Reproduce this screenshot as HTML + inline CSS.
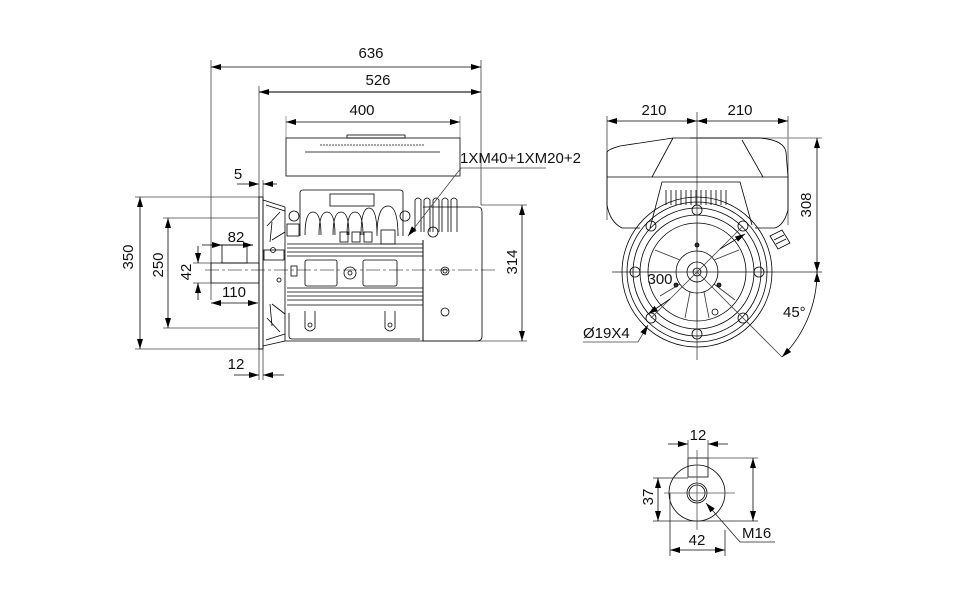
<!DOCTYPE html>
<html><head><meta charset="utf-8"><style>
html,body{margin:0;padding:0;background:#fff}
svg{display:block}
text{font-family:"Liberation Sans",sans-serif;font-size:15px;fill:#111}
</style></head><body>
<svg width="976" height="600" viewBox="0 0 976 600" xmlns="http://www.w3.org/2000/svg">
<defs>
<marker id="a" viewBox="0 0 10 6" refX="10" refY="3" markerWidth="10" markerHeight="6" orient="auto-start-reverse" markerUnits="userSpaceOnUse"><path d="M0,0L10,3L0,6z" fill="#000"/></marker>
</defs>
<g fill="none" stroke="#000" stroke-width="0.8">
<line x1="211" y1="60" x2="211" y2="300" stroke="#444"/>
<line x1="481" y1="60" x2="481" y2="205" stroke="#444"/>
<line x1="259" y1="86" x2="259" y2="380" stroke="#444"/>
<line x1="263" y1="180" x2="263" y2="380" stroke="#444"/>
<line x1="286" y1="116" x2="286" y2="138" stroke="#888"/>
<line x1="460" y1="116" x2="460" y2="138" stroke="#888"/>
<line x1="211" y1="67" x2="481" y2="67" marker-start="url(#a)" marker-end="url(#a)"/>
<line x1="259" y1="92" x2="481" y2="92" stroke="#999" stroke-width="1.5"/>
<line x1="259" y1="92" x2="481" y2="92" marker-start="url(#a)" marker-end="url(#a)"/>
<line x1="286" y1="122" x2="460" y2="122" marker-start="url(#a)" marker-end="url(#a)"/>
<line x1="237" y1="184" x2="259" y2="184" marker-end="url(#a)"/>
<line x1="277" y1="184" x2="263" y2="184" marker-end="url(#a)"/>
<line x1="234" y1="375" x2="259" y2="375" marker-end="url(#a)"/>
<line x1="284" y1="375" x2="263" y2="375" marker-end="url(#a)"/>
<line x1="135" y1="197" x2="262" y2="197" stroke="#444"/>
<line x1="135" y1="349" x2="262" y2="349" stroke="#444"/>
<line x1="140" y1="197" x2="140" y2="349" marker-start="url(#a)" marker-end="url(#a)"/>
<line x1="163" y1="218" x2="258" y2="218" stroke="#444"/>
<line x1="163" y1="328" x2="258" y2="328" stroke="#444"/>
<line x1="168" y1="218" x2="168" y2="328" marker-start="url(#a)" marker-end="url(#a)"/>
<line x1="193" y1="263" x2="211" y2="263" stroke="#444"/>
<line x1="193" y1="283" x2="211" y2="283" stroke="#444"/>
<line x1="198" y1="246" x2="198" y2="263" marker-end="url(#a)"/>
<line x1="198" y1="300" x2="198" y2="283" marker-end="url(#a)"/>
<line x1="202" y1="245" x2="222" y2="245" marker-end="url(#a)"/>
<line x1="253" y1="245" x2="247" y2="245"/>
<line x1="211" y1="245" x2="253" y2="245" marker-end="url(#a)"/>
<line x1="211" y1="303" x2="258" y2="303" marker-start="url(#a)" marker-end="url(#a)"/>
<line x1="481" y1="205" x2="527" y2="205" stroke="#444"/>
<line x1="423" y1="341" x2="527" y2="341" stroke="#444"/>
<line x1="522" y1="205" x2="522" y2="341" marker-start="url(#a)" marker-end="url(#a)"/>
<line x1="205" y1="270" x2="495" y2="270" stroke="#555" stroke-dasharray="14 3 3 3"/>
<rect x="211" y="263" width="48" height="20"/>
<rect x="222" y="245" width="25" height="18"/>
<rect x="259" y="197" width="4" height="152"/>
<path d="M263,200 L285,207 M263,346 L285,341"/>
<path d="M266,205 L285,211 M267,226 L280,212 M272,240 L285,232 M270,242 L272,222 M266,340 L285,334 M267,318 L280,332 M272,304 L285,314 M270,304 L272,326"/>
<rect x="264" y="250" width="20" height="10"/>
<circle cx="273" cy="250" r="2.5"/><circle cx="279" cy="280" r="2"/>
<rect x="286" y="138" width="174" height="38"/>
<rect x="347" y="135" width="58" height="3"/>
<line x1="305" y1="152" x2="440" y2="152"/>
<line x1="320" y1="145" x2="425" y2="145" stroke="#888" stroke-width="1.5" stroke-dasharray="2 1"/>
<path d="M300,236 L300,193 Q300,190 303,190 L400,190 Q403,190 403,193 L403,236"/>
<rect x="330" y="194" width="44" height="12"/>
<path d="M305,235 Q305,212 313,212 Q321,212 321,235 M319,235 Q319,212 327,212 Q335,212 335,235 M333,235 Q333,212 341,212 Q349,212 349,235 M347,235 Q347,212 355,212 Q363,212 363,235 M361,235 Q361,208 369,208 Q377,208 377,235 M377,236 Q377,206 388,206 Q398,206 398,236"/>
<rect x="340" y="232" width="8" height="10"/><rect x="352" y="232" width="8" height="10"/><rect x="364" y="232" width="8" height="10"/><rect x="381" y="230" width="14" height="14"/>
<circle cx="294" cy="216" r="5"/><circle cx="405" cy="216" r="5"/>
<rect x="287" y="224" width="12" height="12"/>
<path d="M415,232 L415,200 Q418,196 421,200 L421,232 M424,232 L424,200 Q427,196 430,200 L430,232 M433,232 L433,200 Q436,196 439,200 L439,232 M442,232 L442,200 Q445,196 448,200 L448,232 M451,232 L451,200 Q454,196 457,200 L457,232"/>
<path d="M285,207 L285,341 L423,341 L423,240"/>
<path d="M423,240 L423,341 M423,207 L478,207 Q482,207 482,212 L482,336 Q482,341 477,341 L423,341"/>
<circle cx="433" cy="232" r="5"/>
<line x1="287" y1="244" x2="423" y2="244"/><line x1="287" y1="248" x2="423" y2="248"/><line x1="287" y1="252" x2="423" y2="252"/><line x1="287" y1="256" x2="423" y2="256"/>
<line x1="287" y1="288" x2="423" y2="288"/><line x1="287" y1="292" x2="423" y2="292"/><line x1="287" y1="296" x2="423" y2="296"/><line x1="287" y1="300" x2="423" y2="300"/><line x1="287" y1="305" x2="423" y2="305"/>
<rect x="305" y="260" width="32" height="26" rx="2"/><rect x="363" y="260" width="34" height="26" rx="2"/>
<circle cx="350" cy="273" r="6"/><circle cx="350" cy="273" r="2"/>
<rect x="291" y="266" width="6" height="10"/>
<circle cx="445" cy="271" r="4"/><circle cx="445" cy="271" r="2"/>
<circle cx="445" cy="312" r="4"/>
<path d="M289,313 L289,336 Q289,339 292,339 L420,339"/>
<path d="M305,311 L305,328 Q310,334 315,328 L315,311 M385,311 L385,328 Q390,334 395,328 L395,311"/>
<circle cx="310" cy="325" r="2"/><circle cx="390" cy="325" r="2"/>
<polyline points="546,168 461,168 408,236" marker-end="url(#a)" stroke="#444"/>

<line x1="607" y1="116" x2="607" y2="220" stroke="#444"/>
<line x1="788" y1="116" x2="788" y2="225" stroke="#444"/>
<line x1="697" y1="112" x2="697" y2="360" stroke="#444"/>
<line x1="607" y1="121" x2="697" y2="121" marker-start="url(#a)" marker-end="url(#a)"/>
<line x1="697" y1="121" x2="788" y2="121" marker-start="url(#a)" marker-end="url(#a)"/>
<line x1="690" y1="138" x2="822" y2="138" stroke="#999" stroke-width="1.2"/>
<line x1="612" y1="272" x2="822" y2="272" stroke="#222"/>
<line x1="817" y1="138" x2="817" y2="272" marker-start="url(#a)" marker-end="url(#a)"/>
<path d="M607,177 L607,152 Q609,149 620,146 L673,138 L760,138 Q784,140 786,152 L788,177 Z"/>
<path d="M673,138 L652,177 M742,140 L763,177"/>
<path d="M607,177 L607,205 Q610,222 622,228 L640,228 M788,177 L788,210 Q784,225 775,228 L755,228"/>
<path d="M650,228 L662,182 L740,182 L752,225"/>
<path d="M666,205 L666,190 M671,205 L671,190 M676,205 L676,190 M681,205 L681,190 M686,205 L686,190 M691,205 L691,190 M696,205 L696,190 M701,205 L701,190 M706,205 L706,190 M711,205 L711,190 M716,205 L716,190 M721,205 L721,190 M726,205 L726,190"/>
<path d="M770,236 L782,230 L790,243 L778,249 Z M774,240 L784,235 M776,244 L786,239"/>
<circle cx="697" cy="272" r="75"/><circle cx="697" cy="272" r="70"/><circle cx="697" cy="272" r="64"/><circle cx="697" cy="272" r="57"/><circle cx="697" cy="272" r="49"/>
<circle cx="697" cy="272" r="21"/><circle cx="697" cy="272" r="10"/><circle cx="697" cy="272" r="4"/>
<path d="M697,251 L697,223 M697,293 L697,321 M676,272 L648,272 M718,272 L746,272 M680,260 L655,250 M714,260 L739,250 M680,284 L660,296 M714,284 L735,300 M690,292 L685,318 M704,292 L709,318" stroke="#333"/>
<g>
<circle cx="697" cy="210" r="5"/><circle cx="697" cy="334" r="5"/><circle cx="635" cy="272" r="5"/><circle cx="759" cy="272" r="5"/>
<circle cx="651" cy="226" r="5"/><circle cx="743" cy="226" r="5"/><circle cx="651" cy="318" r="5"/><circle cx="743" cy="318" r="5"/>
</g>
<circle cx="697" cy="245" r="2" fill="#333"/><circle cx="676" cy="285" r="2" fill="#333"/><circle cx="719" cy="285" r="2" fill="#333"/><circle cx="715" cy="312" r="3"/>
<line x1="743" y1="226" x2="651" y2="318" stroke="#444"/>
<line x1="697" y1="272" x2="782" y2="357" stroke="#444"/>
<line x1="720" y1="249" x2="745" y2="234" marker-end="url(#a)"/>
<line x1="670" y1="299" x2="648" y2="314" marker-end="url(#a)"/>
<polyline points="583,342 638,342 648,325" stroke="#444" marker-end="url(#a)"/>
<path d="M817,272 A120,120 0 0 1 782,357" marker-start="url(#a)" marker-end="url(#a)"/>

<circle cx="697" cy="493" r="28"/>
<rect x="688" y="458" width="20" height="19"/>
<circle cx="697" cy="493" r="10"/><circle cx="697" cy="493" r="8"/>
<line x1="697" y1="450" x2="697" y2="530" stroke="#555"/>
<line x1="664" y1="493" x2="735" y2="493" stroke="#555"/>
<line x1="670" y1="493" x2="670" y2="556" stroke="#222"/>
<line x1="725" y1="530" x2="725" y2="556" stroke="#222"/>
<line x1="670" y1="550" x2="725" y2="550" marker-start="url(#a)" marker-end="url(#a)"/>
<line x1="668" y1="444" x2="688" y2="444" marker-end="url(#a)"/>
<line x1="728" y1="444" x2="708" y2="444" marker-end="url(#a)"/>
<line x1="688" y1="440" x2="688" y2="458" stroke="#444"/><line x1="708" y1="440" x2="708" y2="458" stroke="#444"/>
<line x1="653" y1="478" x2="688" y2="478" stroke="#222"/>
<line x1="653" y1="521" x2="758" y2="521" stroke="#222"/>
<line x1="708" y1="458" x2="758" y2="458" stroke="#444"/>
<line x1="658" y1="478" x2="658" y2="521" marker-start="url(#a)" marker-end="url(#a)"/>
<line x1="753" y1="458" x2="753" y2="521" marker-start="url(#a)" marker-end="url(#a)"/>
<polyline points="775,542 740,542 706,503" marker-end="url(#a)" stroke="#222"/>
</g>
<g>
<text x="371" y="58" text-anchor="middle">636</text>
<text x="378" y="85" text-anchor="middle">526</text>
<text x="362" y="115" text-anchor="middle">400</text>
<text x="238" y="179" text-anchor="middle">5</text>
<text x="236" y="242" text-anchor="middle">82</text>
<text x="234" y="297" text-anchor="middle">110</text>
<text x="236" y="369" text-anchor="middle">12</text>
<text x="460" y="163">1XM40+1XM20+2</text>
<text transform="translate(133,257) rotate(-90)" text-anchor="middle">350</text>
<text transform="translate(163,265) rotate(-90)" text-anchor="middle">250</text>
<text transform="translate(191,272) rotate(-90)" text-anchor="middle">42</text>
<text transform="translate(517,262) rotate(-90)" text-anchor="middle">314</text>
<text x="654" y="115" text-anchor="middle">210</text>
<text x="740" y="115" text-anchor="middle">210</text>
<text transform="translate(811,205) rotate(-90)" text-anchor="middle">308</text>
<text x="660" y="284" text-anchor="middle">300</text>
<text x="583" y="338">Ø19X4</text>
<text x="783" y="317">45°</text>
<text x="698" y="440" text-anchor="middle">12</text>
<text transform="translate(653,497) rotate(-90)" text-anchor="middle">37</text>
<text x="697" y="545" text-anchor="middle">42</text>
<text x="742" y="538">M16</text>
</g>
</svg>
</body></html>
